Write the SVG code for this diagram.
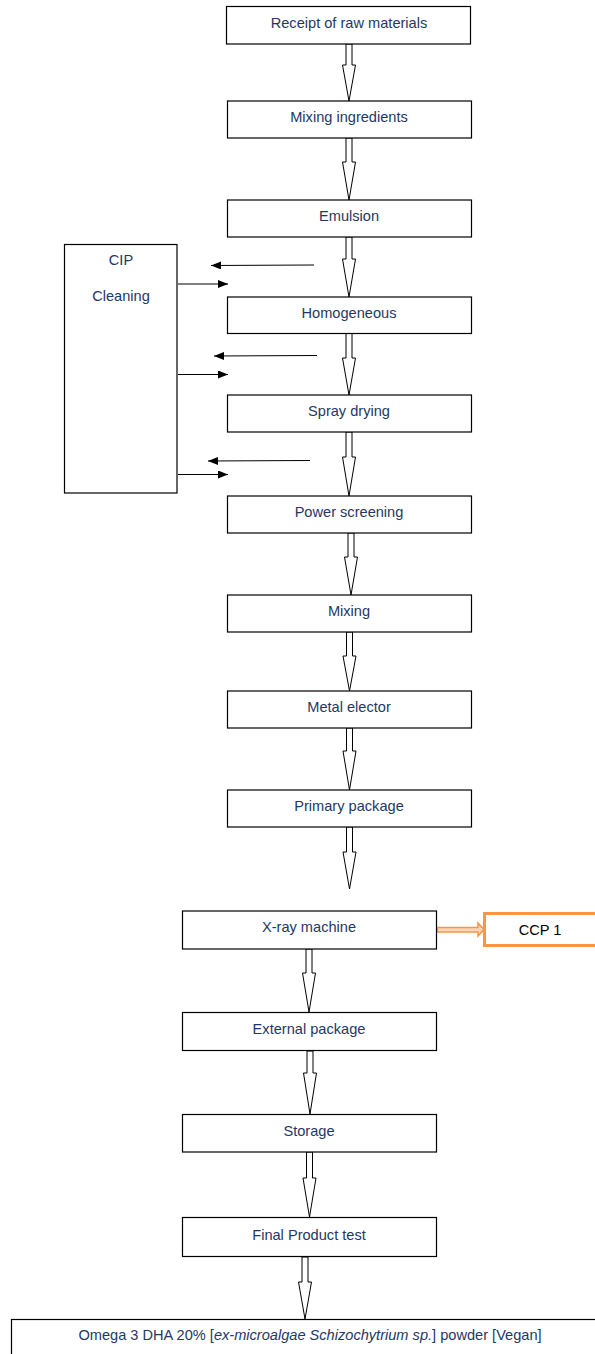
<svg xmlns="http://www.w3.org/2000/svg" width="595" height="1354" viewBox="0 0 595 1354">
<defs>
<style>
.box{fill:#fff;stroke:#000;stroke-width:1.2}
.t{font-family:"Liberation Sans",Arial,sans-serif;font-size:14.6px;fill:#1f3864;text-anchor:middle}
.blk{fill:#fff;stroke:#000;stroke-width:1}
.thin{stroke:#000;stroke-width:1;fill:none;marker-end:url(#ah)}
</style>
<marker id="ah" viewBox="0 0 10 8" refX="10" refY="4" markerWidth="10" markerHeight="8" markerUnits="userSpaceOnUse" orient="auto">
<path d="M0,0 L10,4 L0,8 z" fill="#000"/>
</marker>
</defs>
<rect width="595" height="1354" fill="#fff"/>

<g id="connectors">
<polygon class="blk" points="346,44 352,44 352,65 355.5,65 349,101 342.5,65 346,65"/>
<polygon class="blk" points="346,138 352,138 352,162 355.5,162 349,200 342.5,162 346,162"/>
<polygon class="blk" points="346,237 352,237 352,259 355.5,259 349,297 342.5,259 346,259"/>
<polygon class="blk" points="346,333 352,333 352,358 355.5,358 349,395 342.5,358 346,358"/>
<polygon class="blk" points="346,432 352,432 352,457 355.5,457 349,496 342.5,457 346,457"/>
<polygon class="blk" points="348,533 354,533 354,557 357.5,557 351,595 344.5,557 348,557"/>
<polygon class="blk" points="346.5,632 352.5,632 352.5,656 356,656 349.5,691 343,656 346.5,656"/>
<polygon class="blk" points="346.5,728 352.5,728 352.5,751 356,751 349.5,790 343,751 346.5,751"/>
<polygon class="blk" points="346.5,827 352.5,827 352.5,852 356,852 349.5,889 343,852 346.5,852"/>
<polygon class="blk" points="306,949 312,949 312,973 315.5,973 309,1012 302.5,973 306,973"/>
<polygon class="blk" points="307,1051 313,1051 313,1073 316.5,1073 310,1114 303.5,1073 307,1073"/>
<polygon class="blk" points="306.5,1152 312.5,1152 312.5,1178 316,1178 309.5,1217 303,1178 306.5,1178"/>
<polygon class="blk" points="302,1257 308,1257 308,1282 311.5,1282 305,1319 298.5,1282 302,1282"/>

<line class="thin" x1="314" y1="265" x2="211" y2="265.5"/>
<line class="thin" x1="178" y1="284" x2="228" y2="284"/>
<line class="thin" x1="317" y1="355.5" x2="214" y2="356"/>
<line class="thin" x1="178" y1="374.5" x2="228" y2="374.5"/>
<line class="thin" x1="310" y1="460.5" x2="208" y2="461"/>
<line class="thin" x1="178" y1="474.5" x2="228" y2="474.5"/>

<polygon points="437,927.5 478,927.5 478,923 484,929.5 478,936 478,932 437,932" fill="#fbd5b5" stroke="#f79646" stroke-width="1.6"/>
</g>

<g id="n1"><rect class="box" x="226.5" y="6.5" width="244" height="37.5"/><text class="t" x="349" y="28">Receipt of raw materials</text></g>
<g id="n2"><rect class="box" x="227.5" y="101" width="244" height="37"/><text class="t" x="349" y="122">Mixing ingredients</text></g>
<g id="n3"><rect class="box" x="227.5" y="200" width="244" height="37"/><text class="t" x="349" y="221">Emulsion</text></g>
<g id="n4"><rect class="box" x="227.5" y="297" width="244" height="36.5"/><text class="t" x="349" y="318">Homogeneous</text></g>
<g id="n5"><rect class="box" x="227.5" y="395" width="244" height="37"/><text class="t" x="349" y="416">Spray drying</text></g>
<g id="n6"><rect class="box" x="227.5" y="496" width="244" height="37"/><text class="t" x="349" y="517">Power screening</text></g>
<g id="n7"><rect class="box" x="227.5" y="595" width="244" height="37"/><text class="t" x="349" y="616">Mixing</text></g>
<g id="n8"><rect class="box" x="227.5" y="691" width="244" height="37"/><text class="t" x="349" y="712">Metal elector</text></g>
<g id="n9"><rect class="box" x="227.5" y="790" width="244" height="37"/><text class="t" x="349" y="811">Primary package</text></g>
<g id="n10"><rect class="box" x="182.5" y="911" width="254" height="38"/><text class="t" x="309" y="932">X-ray machine</text></g>
<g id="n11"><rect x="484.5" y="913.5" width="120" height="32" fill="#fff" stroke="#f79646" stroke-width="3"/><text class="t" x="540" y="935" style="fill:#000">CCP 1</text></g>
<g id="n12"><rect class="box" x="182.5" y="1012.5" width="254" height="38"/><text class="t" x="309" y="1034">External package</text></g>
<g id="n13"><rect class="box" x="182.5" y="1114.5" width="254" height="37.5"/><text class="t" x="309" y="1136">Storage</text></g>
<g id="n14"><rect class="box" x="182.5" y="1217.5" width="254" height="39"/><text class="t" x="309" y="1240">Final Product test</text></g>
<g id="n15"><rect class="box" x="11.5" y="1319.5" width="600" height="50"/><text class="t" x="310" y="1340">Omega 3 DHA 20% [<tspan font-style="italic">ex-microalgae Schizochytrium sp.</tspan>] powder [Vegan]</text></g>
<g id="cip"><rect class="box" x="64.5" y="244.5" width="112.5" height="248.5"/><text class="t" x="121" y="265">CIP</text><text class="t" x="121" y="301">Cleaning</text></g>
</svg>
